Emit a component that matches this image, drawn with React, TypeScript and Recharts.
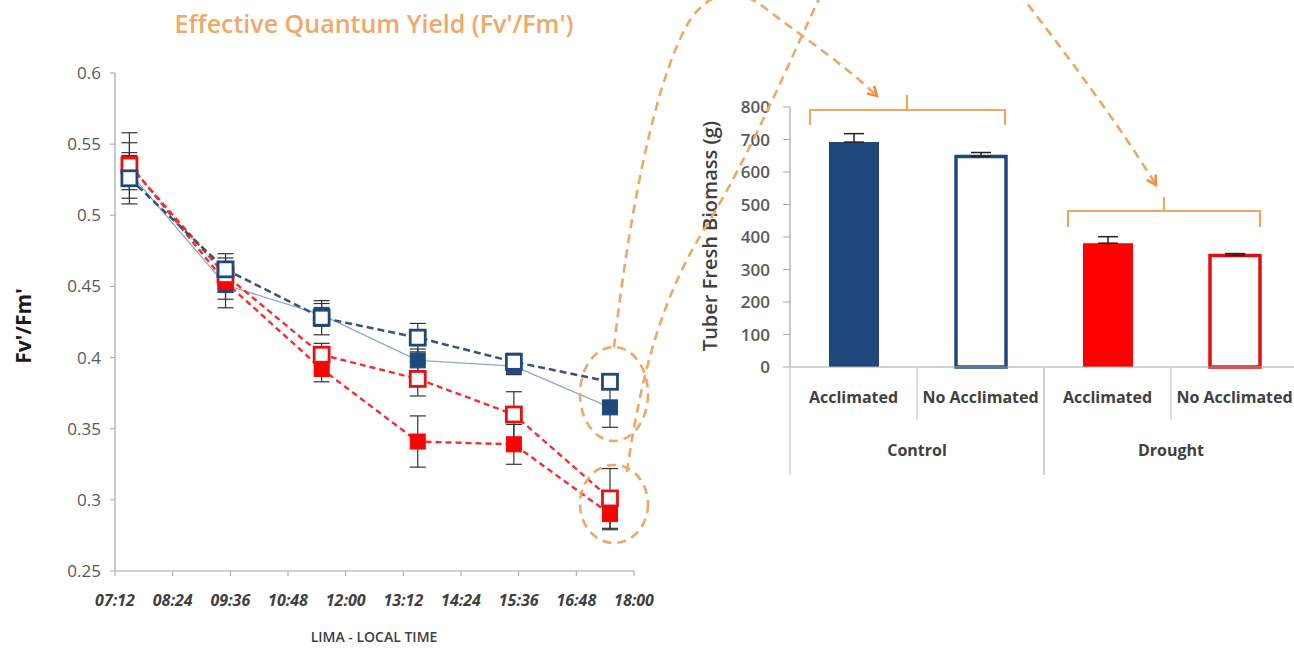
import React from 'react';
import { ComposedChart, Line, XAxis, YAxis, ErrorBar, BarChart, Bar, Cell } from 'recharts';

// ---------- Left chart data ----------
const timeTickLabels = ['07:12', '08:24', '09:36', '10:48', '12:00', '13:12', '14:24', '15:36', '16:48', '18:00'];
const yieldTicks = [0.25, 0.3, 0.35, 0.4, 0.45, 0.5, 0.55, 0.6];
const sampleTimes = ['07:30', '09:30', '11:30', '13:30', '15:30', '17:30'];
const blueFilled = [0.53, 0.451, 0.43, 0.398, 0.394, 0.365];
const blueFilledErr = [0.012, 0.016, 0.008, 0.008, 0.006, 0.014];
const blueOpen = [0.526, 0.462, 0.428, 0.414, 0.397, 0.383];
const blueOpenErr = [0.018, 0.011, 0.012, 0.01, 0.006, 0.004];
const redFilled = [0.536, 0.453, 0.392, 0.341, 0.339, 0.29];
const redFilledErr = [0.015, 0.012, 0.009, 0.018, 0.014, 0.011];
const redOpen = [0.535, 0.458, 0.402, 0.385, 0.36, 0.301];
const redOpenErr = [0.023, 0.012, 0.008, 0.012, 0.016, 0.021];

// ---------- Right chart data ----------
const treatments = ['Acclimated', 'No Acclimated', 'Acclimated', 'No Acclimated'];
const groups = ['Control', 'Control', 'Drought', 'Drought'];
const biomass = [692, 648, 381, 343];
const biomassErr = [26, 12, 20, 6];
const biomassTicks = [0, 100, 200, 300, 400, 500, 600, 700, 800];
const barFills = ['#1F497D', '#FFFFFF', '#FF0000', '#FFFFFF'];
const barStrokes = ['#1F497D', '#1F497D', '#FF0000', '#E01010'];

const toMin = (s: string) => {
  const [h, m] = s.split(':').map(Number);
  return h * 60 + m;
};
const fmtMin = (v: number) => {
  const h = Math.floor(v / 60);
  const m = Math.round(v - h * 60);
  return `${String(h).padStart(2, '0')}:${String(m).padStart(2, '0')}`;
};

const lineData = sampleTimes.map((t, i) => ({
  t: toMin(t),
  bf: blueFilled[i],
  bfE: blueFilledErr[i],
  bo: blueOpen[i],
  boE: blueOpenErr[i],
  rf: redFilled[i],
  rfE: redFilledErr[i],
  ro: redOpen[i],
  roE: redOpenErr[i],
}));

const barData = treatments.map((tr, i) => ({
  treatment: tr,
  group: groups[i],
  biomass: biomass[i],
  err: [0, biomassErr[i]],
}));

const FONT = '"Open Sans", "DejaVu Sans", sans-serif';
const ORANGE = '#EDA866';
const ORANGE_ARROW = '#F09040';

const square = (fill: string, stroke: string, sw: number, s: number) => (props: any) => {
  const { cx, cy, index } = props;
  if (cx == null || cy == null) return <g key={`n${index}`} />;
  return (
    <rect
      key={`sq${index}`}
      x={cx - s / 2}
      y={cy - s / 2}
      width={s}
      height={s}
      fill={fill}
      stroke={stroke}
      strokeWidth={sw}
    />
  );
};

// bar chart geometry
const BAR_W = 600;
const BAR_YAXIS_W = 90;
const BAR_MARGIN_R = 2;
const BAR_PLOT_W = BAR_W - BAR_YAXIS_W - BAR_MARGIN_R;
const SLOT = BAR_PLOT_W / treatments.length;

const BarTick = (props: any) => {
  const { x, y, payload, index } = props;
  const i = index as number;
  const label = treatments[i] ?? payload.value;
  const isGroupStart = i === 0 || groups[i] !== groups[i - 1];
  const isGroupEnd = i === treatments.length - 1 || groups[i] !== groups[i + 1];
  const lineColor = '#C8C8C8';
  return (
    <g>
      <text x={x} y={y + 36} textAnchor="middle" fontFamily={FONT} fontWeight={700} fontSize={16} fill="#404040">
        {label}
      </text>
      {isGroupStart && (
        <>
          <line x1={x - SLOT / 2} y1={y} x2={x - SLOT / 2} y2={y + 108} stroke={lineColor} strokeWidth={1.2} />
          <text x={x + SLOT / 2} y={y + 89} textAnchor="middle" fontFamily={FONT} fontWeight={700} fontSize={16} fill="#404040">
            {groups[i]}
          </text>
        </>
      )}
      {isGroupEnd ? (
        <line x1={x + SLOT / 2} y1={y} x2={x + SLOT / 2} y2={y + 108} stroke={lineColor} strokeWidth={1.2} />
      ) : (
        <line x1={x + SLOT / 2} y1={y} x2={x + SLOT / 2} y2={y + 53} stroke={lineColor} strokeWidth={1.2} />
      )}
    </g>
  );
};

export default function App() {
  const timeTicks = timeTickLabels.map(toMin);
  return (
    <div
      style={{
        position: 'fixed',
        left: 0,
        top: 0,
        width: 1294,
        height: 648,
        overflow: 'hidden',
        background: '#FFFFFF',
        fontFamily: FONT,
      }}
    >
      <div style={{ position: 'absolute', left: 0, top: 0 }}>
        <ComposedChart width={660} height={648} data={lineData} margin={{ top: 73, right: 26, bottom: 0, left: 0 }}>
          <XAxis
            dataKey="t"
            type="number"
            domain={[timeTicks[0], timeTicks[timeTicks.length - 1]]}
            ticks={timeTicks}
            tickFormatter={fmtMin}
            height={77}
            tickSize={5}
            tickMargin={19}
            axisLine={{ stroke: '#A6A6A6', strokeWidth: 1.2 }}
            tickLine={{ stroke: '#A6A6A6' }}
            tick={{ fontFamily: FONT, fontSize: 16, fontWeight: 700, fontStyle: 'italic', fill: '#404040' }}
            interval={0}
          />
          <YAxis
            type="number"
            domain={[0.25, 0.6]}
            ticks={yieldTicks}
            width={115}
            tickSize={5}
            tickMargin={9}
            axisLine={{ stroke: '#A6A6A6', strokeWidth: 1.2 }}
            tickLine={{ stroke: '#A6A6A6' }}
            tick={{ fontFamily: FONT, fontSize: 17, fill: '#595959' }}
            interval={0}
          />
          <Line
            dataKey="bf"
            stroke="#8FA8C8"
            strokeWidth={1.3}
            isAnimationActive={false}
            dot={square('#1F497D', '#1F497D', 1, 15)}
            activeDot={false}
          >
            <ErrorBar dataKey="bfE" width={8} strokeWidth={1.2} stroke="#333333" direction="y" />
          </Line>
          <Line
            dataKey="rf"
            stroke="#F03030"
            strokeWidth={2.4}
            strokeDasharray="6 4"
            isAnimationActive={false}
            dot={square('#FF0000', '#FF0000', 1, 15)}
            activeDot={false}
          >
            <ErrorBar dataKey="rfE" width={8} strokeWidth={1.2} stroke="#333333" direction="y" />
          </Line>
          <Line
            dataKey="ro"
            stroke="#F03030"
            strokeWidth={2.4}
            strokeDasharray="6 4"
            isAnimationActive={false}
            dot={square('#FFFFFF', '#E81010', 2.8, 15)}
            activeDot={false}
          >
            <ErrorBar dataKey="roE" width={8} strokeWidth={1.2} stroke="#333333" direction="y" />
          </Line>
          <Line
            dataKey="bo"
            stroke="#3A5276"
            strokeWidth={2.5}
            strokeDasharray="7 4"
            isAnimationActive={false}
            dot={square('#FFFFFF', '#1F497D', 2.8, 15)}
            activeDot={false}
          >
            <ErrorBar dataKey="boE" width={8} strokeWidth={1.2} stroke="#333333" direction="y" />
          </Line>
        </ComposedChart>
      </div>

      <div style={{ position: 'absolute', left: 700, top: 0 }}>
        <BarChart
          width={BAR_W}
          height={648}
          data={barData}
          margin={{ top: 107, right: BAR_MARGIN_R, bottom: 151, left: 0 }}
        >
          <XAxis
            dataKey="treatment"
            height={130}
            tickSize={0}
            tickMargin={0}
            axisLine={{ stroke: '#A6A6A6', strokeWidth: 1.2 }}
            tickLine={false}
            tick={<BarTick />}
            interval={0}
          />
          <YAxis
            type="number"
            domain={[0, 800]}
            ticks={biomassTicks}
            width={BAR_YAXIS_W}
            tickSize={7}
            tickMargin={13}
            axisLine={{ stroke: '#A6A6A6', strokeWidth: 1.2 }}
            tickLine={{ stroke: '#A6A6A6' }}
            tick={{ fontFamily: FONT, fontSize: 17, fontWeight: 600, fill: '#595959' }}
            interval={0}
          />
          <Bar dataKey="biomass" barSize={50} isAnimationActive={false}>
            {barData.map((d, i) => (
              <Cell
                key={`c${i}`}
                fill={barFills[i]}
                stroke={barStrokes[i]}
                strokeWidth={barFills[i] === '#FFFFFF' ? 3.5 : 0}
              />
            ))}
            <ErrorBar dataKey="err" width={10} strokeWidth={1.5} stroke="#222222" direction="y" />
          </Bar>
        </BarChart>
      </div>

      <svg
        width={1294}
        height={648}
        style={{ position: 'absolute', left: 0, top: 0, pointerEvents: 'none' }}
      >
        <defs>
          <marker
            id="arrowHead"
            viewBox="0 0 10 10"
            refX="8"
            refY="5"
            markerWidth="5"
            markerHeight="5"
            orient="auto"
            markerUnits="strokeWidth"
          >
            <path d="M1,1 L8,5 L1,9" fill="none" stroke={ORANGE_ARROW} strokeWidth={2} />
          </marker>
        </defs>

        <text x={374} y={33} textAnchor="middle" fontFamily={FONT} fontWeight={600} fontSize={25} fill="#F0A868">
          Effective Quantum Yield (Fv'/Fm')
        </text>
        <text
          x={0}
          y={0}
          transform="translate(31 326) rotate(-90)"
          textAnchor="middle"
          fontFamily={FONT}
          fontWeight={700}
          fontSize={21}
          fill="#1A1A1A"
        >
          Fv'/Fm'
        </text>
        <text x={374} y={642} textAnchor="middle" fontFamily={FONT} fontWeight={600} fontSize={14} fill="#404040">
          LIMA - LOCAL TIME
        </text>
        <text
          x={0}
          y={0}
          transform="translate(717 236) rotate(-90)"
          textAnchor="middle"
          fontFamily={FONT}
          fontWeight={600}
          fontSize={20}
          fill="#404040"
        >
          Tuber Fresh Biomass (g)
        </text>

        {/* brackets */}
        <path d="M810,125 L810,110 L1005,110 L1005,125 M907,110 L907,95" fill="none" stroke={ORANGE} strokeWidth={2.2} />
        <path d="M1068,227 L1068,211 L1260,211 L1260,227 M1164,211 L1164,197" fill="none" stroke={ORANGE} strokeWidth={2.2} />

        {/* ellipses */}
        <ellipse cx={614} cy={394} rx={34} ry={47} fill="none" stroke={ORANGE} strokeWidth={2.6} strokeDasharray="9 6" />
        <ellipse cx={614} cy={504} rx={34} ry={39} fill="none" stroke={ORANGE} strokeWidth={2.6} strokeDasharray="9 6" />

        {/* connectors */}
        <path
          d="M614,347 C624,260 648,90 690,20 C712,-12 740,-12 765,8 C800,35 845,65 877,96"
          fill="none"
          stroke={ORANGE}
          strokeWidth={2.6}
          strokeDasharray="9 6"
          markerEnd="url(#arrowHead)"
        />
        <path
          d="M627,472 C640,380 660,300 705,228 S790,60 830,-25 C880,-120 960,-110 1005,-25 C1040,20 1110,110 1156,185"
          fill="none"
          stroke={ORANGE}
          strokeWidth={2.6}
          strokeDasharray="9 6"
          markerEnd="url(#arrowHead)"
        />
      </svg>
    </div>
  );
}
